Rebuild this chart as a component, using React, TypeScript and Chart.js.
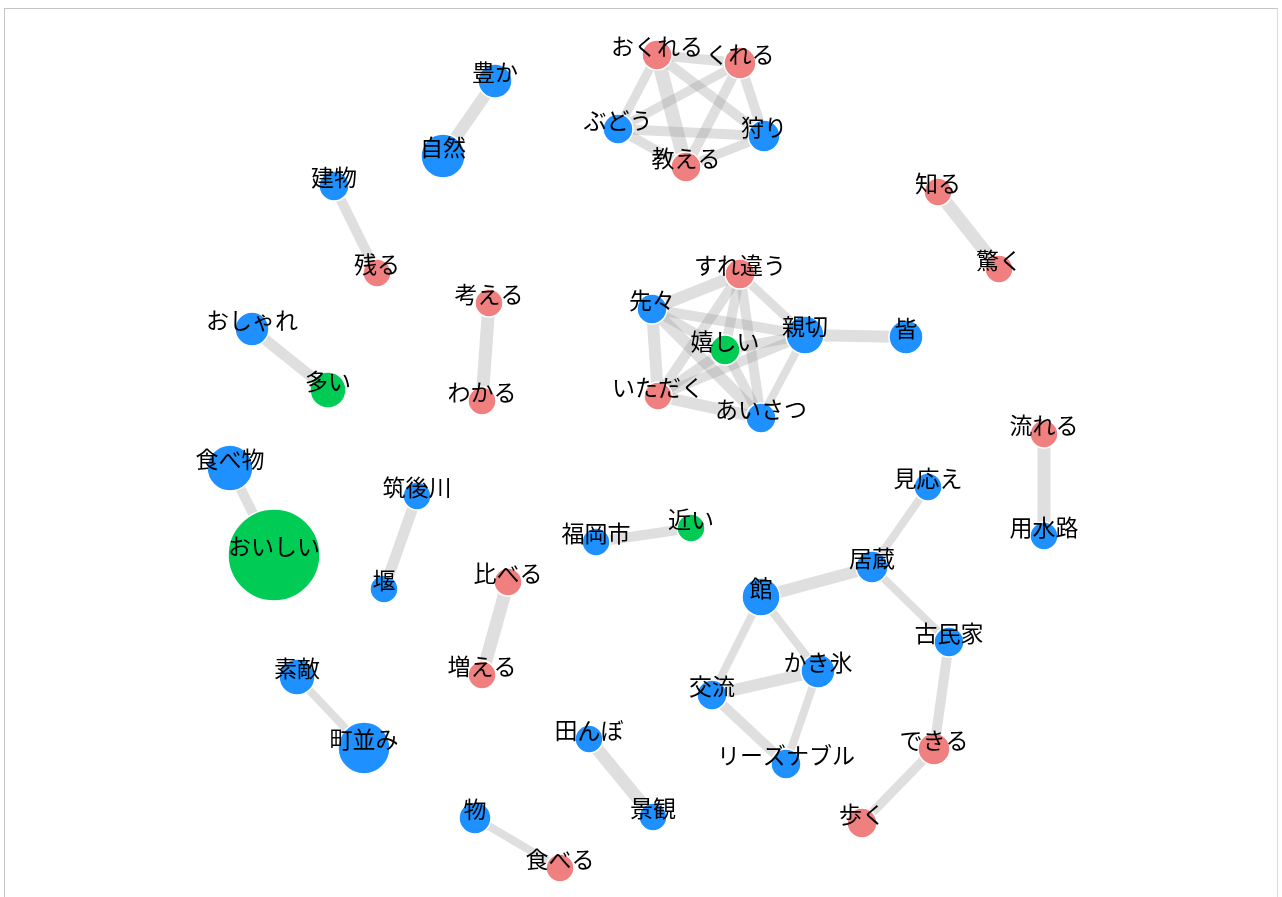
import React, { useEffect, useRef } from "react";
import { Chart, registerables } from "chart.js";

Chart.register(...registerables);

// Co-occurrence network: nodes (layout coordinates), sizes and groups
const nodeLabels = [
  "豊か", "自然", "おくれる", "くれる", "ぶどう", "狩り", "教える", "建物", "知る", "残る",
  "驚く", "考える", "すれ違う", "先々", "親切", "皆", "嬉しい", "おしゃれ", "多い", "わかる",
  "いただく", "あいさつ", "流れる", "食べ物", "見応え", "筑後川", "おいしい", "福岡市", "近い", "用水路",
  "居蔵", "館", "堰", "比べる", "古民家", "かき氷", "交流", "増える", "素敵", "田んぼ",
  "町並み", "できる", "リーズナブル", "景観", "物", "歩く", "食べる",
];
const nodeX = [
  495, 443, 657, 740, 618, 764, 686, 334, 938, 377,
  999, 489, 740, 652, 805, 906, 725, 252, 328, 482,
  658, 761, 1044, 230, 928, 417, 274, 596, 691, 1044,
  872, 761, 384, 508, 949, 818, 712, 482, 297, 589,
  364, 934, 786, 653, 475, 862, 560,
];
const nodeY = [
  81, 156, 55, 63, 129, 136, 167, 186, 192, 273,
  269, 303, 274, 309, 335, 337, 350, 329, 390, 401,
  396, 418, 434, 468, 487, 496, 555, 542, 528, 536,
  567, 597, 589, 582, 642, 671, 695, 675, 677, 739,
  748, 749, 764, 817, 818, 823, 868,
];
const nodeSize = [
  17, 22, 15, 16, 15, 16, 15, 15, 14, 14,
  14, 14, 15, 15, 19, 17, 15, 17, 18, 14,
  14, 15, 14, 23, 14, 14, 46, 14, 14, 14,
  16, 19, 14, 14, 15, 17, 15, 14, 18, 14,
  26, 16, 15, 14, 16, 15, 14,
];
// N = noun, V = verb, A = adjective
const nodeGroup = [
  "N", "N", "V", "V", "N", "N", "V", "N", "V", "V",
  "V", "V", "V", "N", "N", "N", "A", "N", "A", "V",
  "V", "N", "V", "N", "N", "N", "A", "N", "A", "N",
  "N", "N", "N", "V", "N", "N", "N", "V", "N", "N",
  "N", "V", "N", "N", "N", "V", "V",
];

// Edges
const edgeFrom = [
  "豊か", "建物", "知る", "考える", "おしゃれ", "流れる", "食べ物", "筑後川", "福岡市", "見応え",
  "居蔵", "居蔵", "館", "館", "交流", "交流", "かき氷", "古民家", "できる", "比べる",
  "素敵", "田んぼ", "物", "親切",
  "おくれる", "おくれる", "おくれる", "おくれる", "くれる", "くれる", "くれる", "ぶどう", "ぶどう", "教える",
  "先々", "先々", "先々", "先々", "先々", "すれ違う", "すれ違う", "すれ違う", "すれ違う", "親切",
  "親切", "親切", "嬉しい", "嬉しい", "いただく",
];
const edgeTo = [
  "自然", "残る", "驚く", "わかる", "多い", "用水路", "おいしい", "堰", "近い", "居蔵",
  "館", "古民家", "かき氷", "交流", "かき氷", "リーズナブル", "リーズナブル", "できる", "歩く", "増える",
  "町並み", "景観", "食べる", "皆",
  "くれる", "ぶどう", "教える", "狩り", "ぶどう", "教える", "狩り", "狩り", "教える", "狩り",
  "すれ違う", "親切", "嬉しい", "いただく", "あいさつ", "親切", "嬉しい", "いただく", "あいさつ", "嬉しい",
  "いただく", "あいさつ", "いただく", "あいさつ", "あいさつ",
];
const edgeWeight = [
  12, 10, 13, 13, 11, 13, 10, 11, 10, 8,
  12, 8, 8, 8, 12, 10, 8, 10, 9, 13,
  8, 13, 8, 12,
  10, 9, 14, 10, 9, 10, 10, 10, 10, 9,
  12, 10, 10, 12, 12, 9, 10, 10, 10, 10,
  10, 8, 10, 10, 12,
];

const groupColor: Record<string, string> = {
  N: "#1e90ff",
  V: "#f08080",
  A: "#00cc55",
};
const EDGE_COLOR = "rgba(150,150,150,0.3)";
const FONT = '23px "Noto Sans CJK JP", "Noto Sans", sans-serif';

const labelPlugin = {
  id: "nodeLabels",
  afterDatasetsDraw(chart: any) {
    const ctx = chart.ctx;
    const xs = chart.scales.x;
    const ys = chart.scales.y;
    ctx.save();
    ctx.font = FONT;
    ctx.fillStyle = "#000";
    ctx.textAlign = "center";
    ctx.textBaseline = "middle";
    for (let i = 0; i < nodeLabels.length; i++) {
      const px = xs.getPixelForValue(nodeX[i]);
      const py = ys.getPixelForValue(nodeY[i]);
      ctx.fillText(nodeLabels[i], px, py - 9);
    }
    ctx.restore();
  },
};

export default function App() {
  const ref = useRef<HTMLCanvasElement | null>(null);

  useEffect(() => {
    if (!ref.current) return;
    const idx = (name: string) => nodeLabels.indexOf(name);

    const edgeDatasets = edgeFrom.map((f, k) => {
      const a = idx(f);
      const b = idx(edgeTo[k]);
      return {
        type: "scatter" as const,
        data: [
          { x: nodeX[a], y: nodeY[a] },
          { x: nodeX[b], y: nodeY[b] },
        ],
        showLine: true,
        borderColor: EDGE_COLOR,
        borderWidth: edgeWeight[k],
        borderCapStyle: "butt" as const,
        pointRadius: 0,
        order: 2,
      };
    });

    const nodeDataset = {
      type: "scatter" as const,
      data: nodeLabels.map((_, i) => ({ x: nodeX[i], y: nodeY[i] })),
      pointRadius: nodeSize,
      pointHoverRadius: nodeSize,
      backgroundColor: nodeGroup.map((g) => groupColor[g]),
      borderColor: "#ffffff",
      borderWidth: 1.5,
      showLine: false,
      order: 1,
    };

    const chart = new Chart(ref.current, {
      type: "scatter",
      data: { datasets: [nodeDataset as any, ...(edgeDatasets as any[])] },
      options: {
        animation: false,
        responsive: false,
        layout: { padding: 0, autoPadding: false },
        plugins: {
          legend: { display: false },
          tooltip: { enabled: false },
        },
        scales: {
          x: { type: "linear", min: 0, max: 1282, display: false },
          y: { type: "linear", min: 0, max: 897, reverse: true, display: false },
        },
      },
      plugins: [labelPlugin],
    });
    return () => chart.destroy();
  }, []);

  return (
    <div
      style={{
        position: "fixed",
        left: 0,
        top: 0,
        width: 1282,
        height: 897,
        overflow: "hidden",
        background: "#fff",
      }}
    >
      <div
        style={{
          position: "absolute",
          left: 4,
          top: 8,
          width: 1272,
          height: 1000,
          borderLeft: "1px solid #c4c4c4",
          borderTop: "1px solid #c4c4c4",
          borderRight: "1px solid #dcdcdc",
        }}
      />
      <canvas
        ref={ref}
        width={1282}
        height={897}
        style={{ position: "absolute", left: 0, top: 0 }}
      />
    </div>
  );
}
